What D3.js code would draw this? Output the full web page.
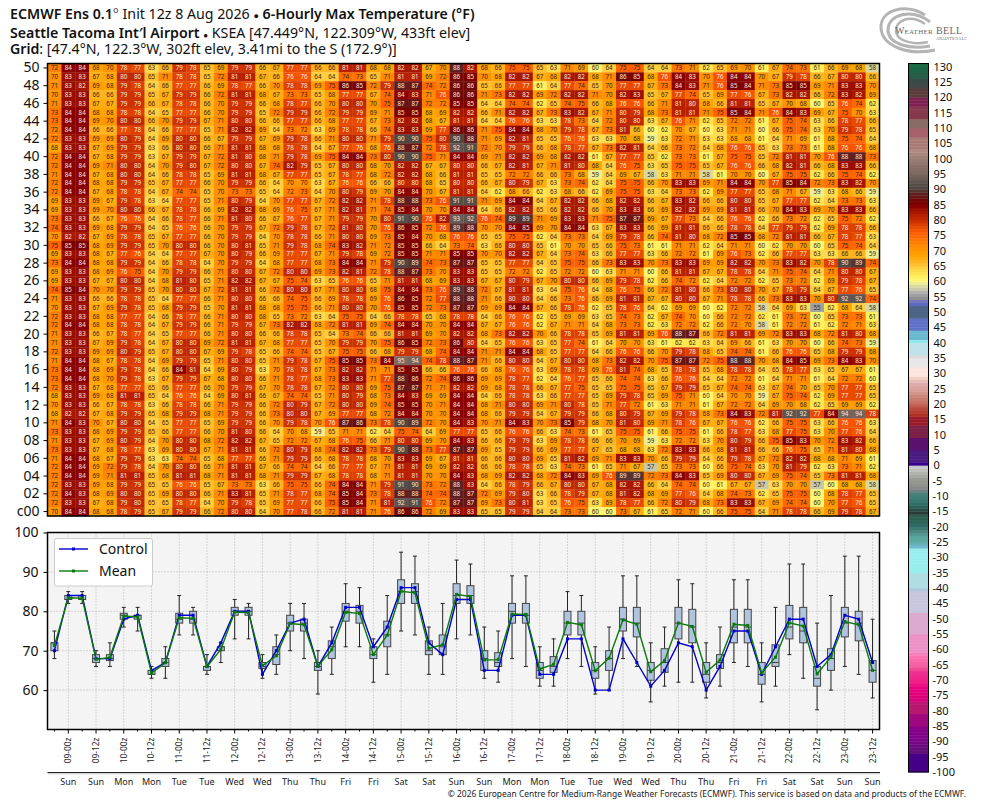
<!DOCTYPE html>
<html>
<head>
<meta charset="utf-8">
<title>ECMWF Ens 6-Hourly Max Temperature</title>
<script src="https://cdn.jsdelivr.net/npm/d3@7"></script>
<style>
  body { margin: 0; background: #fff; }
  svg { display: block; font-family: "Noto Sans", sans-serif; }
  .axis path { display: none; }
</style>
</head>
<body>
<div id="chart"></div>
<script>
// member labels, top row first
const memberLabels = d3.range(50, 0, -1).map(d => (d < 10 ? '0' : '') + d).concat(['c00']);

// forecast times: 08-18z .. 23-12z every 6 hours, only the 00z/12z ones get a label
const timeLabels = ['','09-00z','','09-12z','','10-00z','','10-12z','','11-00z','','11-12z','','12-00z','','12-12z','','13-00z','','13-12z','','14-00z','','14-12z','','15-00z','','15-12z','','16-00z','','16-12z','','17-00z','','17-12z','','18-00z','','18-12z','','19-00z','','19-12z','','20-00z','','20-12z','','21-00z','','21-12z','','22-00z','','22-12z','','23-00z','','23-12z'];
const dayLabels = ['','Sun','','Sun','','Mon','','Mon','','Tue','','Tue','','Wed','','Wed','','Thu','','Thu','','Fri','','Fri','','Sat','','Sat','','Sun','','Sun','','Mon','','Mon','','Tue','','Tue','','Wed','','Wed','','Thu','','Thu','','Fri','','Fri','','Sat','','Sat','','Sun','','Sun'];

// one row per ensemble member (last row is the control run)
const memberValues = [
[72,84,84,68,70,78,77,63,66,79,78,65,69,79,79,66,67,77,77,66,66,81,81,68,68,82,82,67,70,88,82,68,66,75,75,65,63,71,69,60,64,75,75,64,64,73,71,62,65,69,70,61,67,74,73,61,66,69,68,58],
[70,83,83,67,68,80,80,65,71,78,78,65,72,81,81,67,66,76,76,64,64,74,73,65,71,81,81,69,72,86,85,70,68,82,82,67,68,82,82,68,71,86,85,68,76,84,83,70,76,84,84,70,67,79,78,66,67,80,80,66],
[71,83,82,69,68,79,78,64,66,77,77,66,69,78,77,66,70,78,78,69,75,86,85,72,79,88,87,74,72,86,86,65,66,77,77,61,64,77,74,65,70,77,77,67,73,84,83,71,76,85,84,71,73,85,85,69,71,83,83,70],
[70,83,83,66,66,79,79,65,67,79,79,66,72,81,81,68,67,73,73,65,68,77,77,67,74,84,83,71,76,86,86,71,73,82,82,69,72,82,82,71,70,82,83,65,67,77,74,65,69,77,76,67,73,82,82,66,72,83,82,69],
[71,83,83,67,67,79,79,66,67,78,78,66,70,79,79,66,68,78,77,66,70,80,80,70,75,87,87,72,72,85,85,64,64,74,74,62,65,74,75,66,68,76,76,66,71,81,80,68,66,81,81,65,67,70,68,60,65,76,74,62],
[73,84,84,68,68,78,78,64,65,77,77,66,70,79,79,65,72,79,79,66,72,79,79,69,71,85,85,68,69,82,82,66,71,82,82,67,73,83,82,67,71,80,79,68,73,81,81,71,75,85,84,71,76,84,83,69,67,75,70,63],
[73,84,84,69,70,80,80,66,70,79,79,67,71,80,80,66,66,77,77,66,68,77,77,67,73,82,82,68,67,81,81,64,64,76,76,63,63,78,73,64,72,80,80,63,67,76,71,62,65,72,72,61,67,75,74,63,66,78,77,66],
[72,84,84,66,66,77,78,64,66,77,77,65,71,82,82,69,64,73,72,63,69,78,78,66,74,83,83,69,77,86,86,71,75,84,84,68,70,79,78,67,73,81,66,60,62,70,67,60,63,71,71,60,66,75,74,63,70,79,78,65],
[72,83,83,69,69,80,79,64,69,80,80,66,67,79,79,67,69,79,78,66,71,80,80,71,79,90,90,75,80,90,88,71,69,82,81,65,65,76,76,63,63,70,68,59,63,72,71,63,63,68,68,61,64,71,69,61,68,75,74,64],
[68,83,83,67,69,79,79,63,66,80,80,66,71,81,81,68,68,78,78,64,67,77,76,68,76,88,87,72,78,92,91,72,70,79,79,66,68,78,77,67,73,82,81,64,66,73,72,64,68,76,76,65,63,73,73,61,68,76,76,68],
[72,84,84,67,68,79,79,63,67,79,79,67,72,81,80,68,71,79,78,69,75,84,84,73,80,90,90,75,71,84,84,69,71,82,82,69,68,82,82,61,67,77,77,65,62,73,73,61,67,75,75,65,72,81,81,70,76,88,88,73],
[72,84,84,69,71,80,80,64,70,79,80,67,72,80,80,67,74,82,79,65,67,80,80,68,70,82,82,67,67,80,80,66,67,82,81,67,71,81,80,68,64,76,75,63,65,75,75,65,67,76,76,66,68,82,81,66,68,83,83,66],
[71,84,84,67,68,80,80,64,66,78,78,65,69,81,81,68,67,77,77,65,67,78,77,68,72,82,82,68,66,81,81,65,65,72,72,66,66,73,68,59,64,69,67,58,63,71,71,58,61,70,70,60,67,75,75,62,66,75,74,62],
[72,84,84,68,68,79,79,65,67,77,77,66,70,79,79,66,64,70,70,63,67,76,76,66,66,80,80,68,65,80,80,66,67,80,79,67,63,73,74,62,64,75,75,66,70,83,83,69,71,84,84,70,77,85,84,72,73,83,82,70],
[72,84,84,67,68,78,78,64,67,74,74,65,70,73,73,65,64,72,73,64,70,80,79,69,70,84,84,70,67,81,81,64,62,68,66,62,63,68,66,62,69,75,75,63,64,73,73,62,69,77,77,65,68,71,67,59,63,68,66,59],
[69,83,83,69,67,79,78,63,64,77,77,65,71,80,79,64,70,77,77,67,72,82,82,71,78,88,88,73,76,91,91,71,69,84,84,64,67,82,82,66,68,82,82,66,67,83,82,66,66,80,80,65,67,77,77,62,64,73,73,63],
[69,83,83,69,70,80,80,66,67,78,78,66,69,82,82,68,69,76,75,67,71,82,81,71,74,85,84,70,70,84,84,64,66,82,82,65,66,82,82,66,70,83,83,66,69,82,82,69,69,81,81,66,70,84,83,69,70,83,83,66],
[73,83,83,66,67,76,76,64,66,78,77,66,71,81,80,66,67,76,77,67,71,79,79,70,80,91,90,76,82,93,92,76,74,89,89,71,69,83,83,71,75,87,87,69,67,77,73,64,66,76,76,62,66,73,72,62,65,75,72,62],
[74,83,83,69,68,79,79,64,65,76,76,66,70,79,79,67,72,79,78,67,72,81,80,70,76,86,85,72,76,89,88,70,70,84,85,69,70,84,84,63,67,83,83,66,69,81,81,66,66,78,78,64,77,79,79,62,69,78,78,66],
[70,82,82,67,69,78,78,65,67,77,77,66,70,79,79,64,70,78,78,66,71,80,80,69,73,85,84,70,68,76,76,65,65,75,75,62,64,73,73,64,69,79,78,66,74,81,80,68,72,85,85,68,72,81,81,66,67,78,77,63],
[75,85,85,68,69,79,79,65,70,80,80,66,70,80,81,65,71,79,78,68,74,83,82,71,72,85,85,66,64,73,74,63,66,80,80,65,61,70,70,65,66,75,73,61,61,71,71,62,64,71,71,60,62,70,70,60,65,75,74,64],
[69,83,83,68,67,77,76,64,64,77,77,67,70,80,79,66,69,77,77,67,71,79,78,69,72,85,85,71,71,85,85,70,70,82,82,67,64,73,74,63,66,77,77,63,66,72,72,61,69,76,73,62,66,77,77,63,63,66,66,59],
[73,84,84,68,68,79,79,64,66,78,78,64,70,79,79,64,68,77,77,68,73,84,84,71,79,90,89,74,73,87,87,65,65,77,77,64,65,75,75,66,73,83,83,70,73,83,83,69,69,82,82,70,73,83,82,70,78,90,89,74],
[69,83,83,68,69,76,75,64,70,79,79,66,71,80,80,67,72,80,80,69,73,82,81,72,78,88,87,73,70,83,83,65,65,72,72,62,65,72,72,60,63,71,71,60,66,81,81,67,67,78,78,64,71,75,74,64,71,80,80,67],
[69,83,83,67,67,80,80,64,68,81,80,65,71,82,82,67,67,75,74,63,65,76,76,65,71,81,81,68,69,83,83,67,67,80,79,67,70,80,80,66,69,79,78,62,66,74,72,62,64,72,72,62,65,73,72,62,69,79,78,67],
[74,85,84,70,70,79,79,65,70,80,80,67,72,81,81,66,72,80,80,67,71,80,80,68,75,84,84,73,76,89,88,72,67,81,81,63,64,75,76,64,68,76,75,66,72,81,80,66,73,80,80,70,67,78,79,64,67,77,76,65],
[71,83,83,66,66,78,78,65,64,77,77,66,71,80,80,66,66,74,75,66,69,78,78,69,76,86,85,72,77,88,88,71,66,80,80,64,66,73,76,66,69,81,81,67,67,80,80,67,71,78,78,66,73,83,83,70,80,92,92,74],
[70,83,83,67,69,79,78,65,68,79,79,65,70,81,81,68,68,75,75,66,71,80,80,70,76,85,85,72,73,87,87,69,69,84,84,67,66,78,76,62,65,78,76,64,62,69,69,60,62,72,72,58,64,69,63,55,62,68,64,58],
[72,83,83,68,68,77,77,64,66,78,77,66,71,80,80,68,65,73,72,63,64,75,75,64,66,78,78,65,68,78,78,64,66,76,76,62,65,69,69,63,65,74,73,62,67,74,70,60,66,72,72,62,61,73,72,60,65,73,73,61],
[72,84,84,68,68,78,78,64,67,79,79,66,71,79,79,67,73,82,82,68,72,81,81,69,74,84,84,70,70,84,84,67,67,76,76,62,67,71,71,64,68,73,73,62,63,72,72,62,66,72,70,58,61,72,72,61,62,72,71,63],
[71,83,83,66,67,78,77,64,65,77,77,66,71,80,80,66,66,78,78,65,64,73,74,66,66,81,81,69,70,82,82,68,73,82,82,70,66,78,78,65,69,81,81,69,76,88,87,66,72,81,81,69,72,83,83,68,72,81,80,68],
[71,83,83,67,69,79,78,64,67,80,80,69,72,81,81,67,68,77,77,65,70,79,79,70,75,86,85,72,73,86,80,64,65,76,76,63,65,77,74,61,64,70,70,63,61,62,62,63,64,69,66,61,63,70,70,60,66,74,73,59],
[72,83,83,69,69,80,79,65,67,80,80,67,69,79,78,65,66,74,74,65,67,75,75,66,68,79,79,68,74,84,84,71,71,84,84,68,65,77,77,64,66,76,76,66,70,79,78,68,65,74,74,61,66,76,76,65,68,79,79,68],
[71,84,84,68,67,78,78,64,69,79,79,65,71,80,80,65,71,79,78,67,75,85,85,73,84,95,94,74,78,88,87,71,66,80,80,64,67,80,80,68,73,82,82,70,75,87,87,72,75,88,88,70,68,84,85,69,73,84,83,70],
[73,84,84,68,69,79,78,64,66,84,81,64,69,80,79,63,70,78,78,67,73,82,82,71,71,85,85,66,66,76,76,66,68,76,76,63,69,78,78,69,76,81,74,68,65,78,78,65,68,78,78,64,65,78,77,63,65,67,67,61],
[73,84,84,68,70,79,78,63,67,79,79,67,68,80,80,66,71,78,77,68,73,83,83,71,77,88,86,72,74,86,86,69,69,78,77,62,64,76,77,65,66,74,74,63,66,76,76,64,64,72,72,61,64,71,71,61,64,72,72,60],
[72,83,83,67,68,77,77,65,66,77,77,66,70,79,79,67,70,78,78,67,72,80,80,69,75,87,87,71,71,82,82,69,68,78,78,66,67,77,75,65,65,75,75,65,67,79,79,65,67,74,74,63,67,74,70,65,70,77,77,65],
[68,83,83,69,68,81,81,65,64,76,76,64,69,80,81,66,67,74,74,65,71,80,79,68,73,84,83,69,69,84,84,64,66,78,78,63,66,77,77,65,69,79,78,65,69,75,71,60,64,70,70,59,67,75,74,62,69,77,77,65],
[70,83,83,66,67,78,78,63,66,78,78,66,71,79,79,66,72,80,79,67,72,80,80,69,74,85,85,70,71,84,84,68,71,80,80,69,71,80,78,65,71,77,72,61,63,71,71,61,67,72,72,64,69,70,68,62,65,69,69,62],
[68,82,82,67,68,79,79,65,68,79,79,68,71,79,79,66,73,80,80,67,69,77,77,68,72,84,84,70,70,84,84,68,66,79,79,64,67,79,79,66,68,80,79,67,69,79,78,68,73,84,83,72,81,92,92,77,84,94,94,78],
[71,84,83,70,67,80,80,64,65,77,77,65,69,79,79,66,70,79,78,70,76,87,86,73,78,90,89,72,70,84,83,70,71,84,83,70,73,85,79,68,70,81,80,69,71,78,76,67,67,76,76,62,66,75,75,63,66,76,76,63],
[73,83,83,68,69,79,79,65,66,77,77,66,70,81,80,66,64,70,68,59,65,71,71,62,64,75,74,64,69,77,77,65,66,76,76,66,63,74,73,61,65,75,75,61,66,75,75,61,66,78,77,63,68,77,75,63,70,77,76,64],
[71,83,83,67,69,80,79,64,70,80,80,68,72,82,82,67,65,72,72,67,68,76,75,66,71,80,80,69,70,84,83,66,66,79,79,63,69,78,78,66,66,70,69,59,63,72,72,63,70,80,79,66,75,85,83,70,72,83,82,66],
[73,83,83,67,68,78,77,63,69,80,80,67,71,81,81,66,72,80,79,68,74,82,82,73,79,90,88,73,77,87,87,69,65,79,79,66,69,77,77,67,65,68,68,63,72,83,83,66,68,81,81,66,66,76,75,65,71,81,80,68],
[71,84,84,68,67,79,79,63,63,74,74,65,68,77,77,66,71,79,79,66,68,78,78,68,70,83,83,69,67,81,81,66,66,80,80,69,65,81,82,69,71,83,83,70,66,79,79,64,66,79,78,67,72,82,82,68,68,71,69,61],
[72,84,84,69,72,79,78,64,70,80,80,66,71,81,81,67,66,74,74,64,66,77,77,67,71,81,81,69,69,82,82,66,66,78,78,65,63,74,73,61,65,71,67,57,65,73,73,60,66,75,74,63,70,81,79,62,63,73,71,62],
[72,84,84,69,71,81,81,65,68,81,81,68,71,81,81,68,71,79,79,67,68,78,78,68,71,81,81,70,70,84,83,68,69,82,82,68,72,84,83,69,76,89,89,72,73,84,83,65,69,80,80,67,69,75,74,65,73,81,81,68],
[72,83,83,69,68,79,79,65,65,76,76,65,67,73,73,63,66,75,75,66,74,84,84,71,79,91,90,73,72,88,83,64,66,78,79,66,67,80,80,67,68,82,82,66,64,74,74,60,61,67,67,57,63,70,70,57,60,68,68,58],
[72,84,83,68,69,80,80,65,69,80,80,66,71,83,81,65,71,78,77,68,74,85,84,73,78,88,88,74,74,88,87,72,69,79,80,63,66,78,79,67,68,81,82,68,69,77,76,64,68,74,73,62,65,75,75,60,68,78,77,65],
[72,83,83,67,68,79,80,65,65,78,77,64,70,79,78,65,69,77,77,66,75,85,84,71,81,92,91,76,72,87,87,69,73,80,81,63,65,76,75,63,69,78,77,66,72,80,79,68,73,83,83,67,69,74,74,60,70,77,76,65],
[70,84,84,68,68,78,79,65,67,79,79,66,72,80,80,64,70,77,78,66,72,81,81,71,76,86,86,72,69,83,83,65,65,79,79,64,64,73,73,60,60,73,67,61,65,72,71,60,66,75,75,64,71,78,78,66,69,79,78,67]
];

// colorbar bands
const tempStops = [-100,-95,-94,-90,-86,-85,-82,-81,-78,-77,-73,-71,-68,-66,-63,-61,-56,-55,-49,-48,-42,-41,-40,-36,-35,-28,-27,-25,-24,-22,-20,-18,-17,-16,-15,-13,-11,-10,-8,-7,-5,-3,-1,0,1,4,5,8,9,12,13,15,16,18,20,22,24,26,28,29,31,32,34,35,36,39,40,41,43,44,47,48,51,52,53,54,55,56,57,58,59,60,61,62,63,64,65,66,67,68,69,70,71,72,73,74,75,76,77,78,79,80,81,82,83,84,85,86,87,88,90,92,94,95,97,98,102,103,106,107,109,110,112,113,116,117,119,120,122,123,125,126,130,131];
const tempColors = ['#460088','#480088','#601078','#7a0488','#880088','#a00880','#a00880','#b81870','#b81870','#d80078','#e80080','#f02088','#f03090','#f060a0','#ff70b0','#ee90c8','#ee90c8','#dcaad0','#dcaad0','#c6c6de','#c6c6de','#b0c8e0','#aedde2','#aedde2','#98eeee','#98eeee','#70b8d0','#5aa8a0','#5aa8a0','#4a8880','#2f6b64','#2a5f50','#2a5f50','#2a3a38','#284f44','#2f6f68','#3f7f78','#458078','#8a8a8a','#8f918c','#9a9c94','#b0b4ac','#c8c8c8','#3c0090','#4a1a80','#4a1a80','#5c1070','#5c1070','#7c2048','#7c2048','#9a1a2a','#9a1a2a','#b03020','#b84a40','#c87060','#cc8878','#d8a098','#e0aaaa','#f0cfc0','#fce4de','#fce4de','#e8e8e8','#e8e8e8','#dcdcdc','#bfe3ea','#bfe3ea','#90e8e8','#6ab8d0','#6ab8d0','#5e70c8','#5e70c8','#4e6585','#4e6585','#5a6ac0','#7575c0','#8f9090','#a0a0a0','#b0b0b0','#c8c8a8','#d8d8a0','#eeee90','#fff570','#fff060','#ffe650','#ffdb4d','#ffcf40','#ffc030','#ffb520','#ffad10','#ffa500','#ff9d00','#ff9300','#ff8a00','#ff8000','#ff7500','#ff6a00','#ff6000','#f55500','#e84a00','#dd4000','#cc3300','#c02800','#b82000','#a81800','#9a0e00','#8b0000','#7d0000','#700808','#6a1515','#5e2020','#504840','#5f5450','#75635c','#7f6a60','#8a6e68','#90786f','#b08a82','#a87a76','#a87a76','#a8606a','#a8606a','#8a6b66','#8a6b66','#86384d','#86384d','#7f2050','#7f2050','#5a3d3a','#5a3d3a','#44474a','#3a4a48','#2a5a4a','#1a6b45','#1a6b45','#1a6b45','#2a8a3f'];
const colorbarTicks = d3.range(130, -101, -5);

const lineYTicks = [100, 90, 80, 70, 60];

const width = 984, height = 808;
const left = 47.5, right = 879.5;
const heatTop = 63.5, heatBottom = 516;
const lineTop = 532.5, lineBottom = 729.5;

const svg = d3.select('#chart').append('svg')
    .attr('width', width)
    .attr('height', height)
    .attr('viewBox', '0 0 ' + width + ' ' + height);

// titles
const titles = [
  { y: 19, parts: [['ECMWF Ens 0.1', 600], ['\u00B0', 300], [' Init 12z 8 Aug 2026 ', 400], ['\u25CF', 400, 9], [' 6-Hourly Max Temperature', 600], [' (\u00B0F)', 600]] },
  { y: 38, parts: [["Seattle Tacoma Int\u2032l Airport", 600], [' ', 400], ['\u25CF', 400, 8], [' KSEA [47.449\u00B0N, 122.309\u00B0W, 433ft elev]', 400]] },
  { y: 53.5, parts: [['Grid', 600], [': [47.4\u00B0N, 122.3\u00B0W, 302ft elev, 3.41mi to the S (172.9\u00B0)]', 400]] }
];
titles.forEach(function(t) {
  const line = svg.append('text').attr('x', 10).attr('y', t.y).attr('font-size', 14.2).attr('fill', '#111');
  t.parts.forEach(function(p) {
    const span = line.append('tspan').attr('font-weight', p[1]).text(p[0]);
    if (p[2]) span.attr('font-size', p[2]);
  });
});

// shared scales
const x = d3.scaleBand().domain(d3.range(timeLabels.length)).range([left, right]);
const yMember = d3.scaleBand().domain(memberLabels).range([heatTop, heatBottom]);
const yTemp = d3.scaleLinear().domain([50, 100]).range([lineBottom, lineTop]);
const color = d3.scaleLinear().domain(tempStops).range(tempColors).clamp(true);

// heat map
const rows = svg.append('g').selectAll('g')
    .data(memberValues)
    .enter()
    .append('g')
    .attr('transform', (d, i) => 'translate(0,' + yMember(memberLabels[i]) + ')');

const cells = rows.selectAll('g')
    .data(d => d)
    .enter()
    .append('g')
    .attr('transform', (d, i) => 'translate(' + x(i) + ',0)');

cells.append('rect')
    .attr('width', x.bandwidth() + 0.3)
    .attr('height', yMember.bandwidth() + 0.3)
    .attr('fill', d => color(d));

cells.append('text')
    .attr('x', x.bandwidth() / 2)
    .attr('y', yMember.bandwidth() / 2 + 2.2)
    .attr('text-anchor', 'middle')
    .attr('font-size', 6.2)
    .attr('fill', d => d >= 76 ? '#ffe8dc' : '#3a2410')
    .text(d => d);

svg.append('rect')
    .attr('x', left).attr('y', heatTop)
    .attr('width', right - left).attr('height', heatBottom - heatTop)
    .attr('fill', 'none').attr('stroke', '#000').attr('stroke-width', 1.5);

const memberAxis = svg.append('g')
    .attr('class', 'axis')
    .attr('transform', 'translate(' + left + ',0)')
    .call(d3.axisLeft(yMember)
      .tickValues(memberLabels.filter((d, i) => i % 2 === 0))
      .tickSize(4)
      .tickPadding(4));
memberAxis.selectAll('text').attr('font-size', 14).attr('font-family', '"Noto Sans"').attr('fill', '#111');

// lower panel: box plots drawn from the member rows
const columns = d3.range(timeLabels.length).map(i => memberValues.map(r => r[i]).sort(d3.ascending));
const center = i => x(i) + x.bandwidth() / 2;

svg.append('rect')
    .attr('x', left).attr('y', lineTop)
    .attr('width', right - left).attr('height', lineBottom - lineTop)
    .attr('fill', '#f4f4f4');

const grid = svg.append('g')
    .attr('stroke', '#b4b4b4')
    .attr('stroke-width', 1)
    .attr('stroke-dasharray', '1,2');
grid.selectAll('.v')
    .data(d3.range(1, timeLabels.length, 2))
    .enter().append('line')
    .attr('x1', center).attr('x2', center)
    .attr('y1', lineTop).attr('y2', lineBottom);
grid.selectAll('.h')
    .data(lineYTicks)
    .enter().append('line')
    .attr('x1', left).attr('x2', right)
    .attr('y1', d => yTemp(d)).attr('y2', d => yTemp(d));

const boxes = svg.append('g').selectAll('g')
    .data(columns)
    .enter().append('g');

boxes.append('line')
    .attr('x1', (d, i) => center(i)).attr('x2', (d, i) => center(i))
    .attr('y1', d => yTemp(d3.min(d))).attr('y2', d => yTemp(d3.max(d)))
    .attr('stroke', '#222').attr('stroke-width', 1);
[d3.min, d3.max].forEach(function(fn) {
  boxes.append('line')
      .attr('x1', (d, i) => center(i) - 2).attr('x2', (d, i) => center(i) + 2)
      .attr('y1', d => yTemp(fn(d))).attr('y2', d => yTemp(fn(d)))
      .attr('stroke', '#222').attr('stroke-width', 1);
});
boxes.append('rect')
    .attr('x', (d, i) => center(i) - 3.5)
    .attr('width', 7)
    .attr('y', d => yTemp(d3.quantile(d, 0.75)))
    .attr('height', d => yTemp(d3.quantile(d, 0.25)) - yTemp(d3.quantile(d, 0.75)))
    .attr('fill', '#b0c4de').attr('stroke', '#444').attr('stroke-width', 1);
boxes.append('line')
    .attr('x1', (d, i) => center(i) - 3.5).attr('x2', (d, i) => center(i) + 3.5)
    .attr('y1', d => yTemp(d3.median(d))).attr('y2', d => yTemp(d3.median(d)))
    .attr('stroke', '#444').attr('stroke-width', 1);

const controlSeries = memberValues[memberValues.length - 1];
const meanSeries = columns.map(d => d3.mean(d));

function drawSeries(values, col) {
  const line = d3.line().x((d, i) => center(i)).y(d => yTemp(d));
  svg.append('path')
      .attr('d', line(values))
      .attr('fill', 'none')
      .attr('stroke', col)
      .attr('stroke-width', 1.4);
  svg.append('g').selectAll('rect')
      .data(values)
      .enter().append('rect')
      .attr('x', (d, i) => center(i) - 1.5)
      .attr('y', d => yTemp(d) - 1.5)
      .attr('width', 3).attr('height', 3)
      .attr('fill', col);
}
drawSeries(controlSeries, '#0000cc');
drawSeries(meanSeries, '#0a7a0a');

svg.append('rect')
    .attr('x', left).attr('y', lineTop)
    .attr('width', right - left).attr('height', lineBottom - lineTop)
    .attr('fill', 'none').attr('stroke', '#000').attr('stroke-width', 1.5);

const tempAxis = svg.append('g')
    .attr('class', 'axis')
    .attr('transform', 'translate(' + left + ',0)')
    .call(d3.axisLeft(yTemp).tickValues(lineYTicks).tickSize(4).tickPadding(5));
tempAxis.selectAll('text').attr('font-size', 14).attr('font-family', '"Noto Sans"').attr('fill', '#111');

// time ticks, the unlabelled ones are shorter
svg.append('g')
    .attr('class', 'axis')
    .attr('transform', 'translate(0,' + lineBottom + ')')
    .call(d3.axisBottom(x).tickValues(d3.range(0, timeLabels.length, 2)).tickSize(2).tickFormat(''));

const timeAxis = svg.append('g')
    .attr('class', 'axis')
    .attr('transform', 'translate(0,' + lineBottom + ')')
    .call(d3.axisBottom(x)
      .tickValues(d3.range(1, timeLabels.length, 2))
      .tickSize(4)
      .tickFormat(i => timeLabels[i]));
timeAxis.selectAll('text')
    .attr('font-size', 8.4)
    .attr('font-family', '"Noto Sans"')
    .attr('fill', '#222')
    .attr('text-anchor', 'end')
    .attr('dy', '0.35em')
    .attr('transform', function() {
      return 'rotate(-90) translate(-8,-' + d3.select(this).attr('y') + ')';
    });

svg.append('line')
    .attr('x1', left).attr('x2', right + 0.5)
    .attr('y1', 772.5).attr('y2', 772.5)
    .attr('stroke', '#222').attr('stroke-width', 1.2);
svg.append('line')
    .attr('x1', left).attr('x2', right + 0.5)
    .attr('y1', 773.8).attr('y2', 773.8)
    .attr('stroke', '#c4c4c4').attr('stroke-width', 1);

svg.append('g').selectAll('text')
    .data(d3.range(1, dayLabels.length, 2))
    .enter().append('text')
    .attr('x', center)
    .attr('y', 784.5)
    .attr('text-anchor', 'middle')
    .attr('font-size', 9)
    .attr('fill', '#222')
    .text(i => dayLabels[i]);

svg.append('text')
    .attr('x', 966)
    .attr('y', 797)
    .attr('text-anchor', 'end')
    .attr('font-size', 8.45)
    .attr('fill', '#222')
    .text('\u00A9 2026 European Centre for Medium-Range Weather Forecasts (ECMWF). This service is based on data and products of the ECMWF.');

// legend
const legend = svg.append('g');
legend.append('rect')
    .attr('x', 54.5).attr('y', 538.5)
    .attr('width', 98).attr('height', 47.5)
    .attr('rx', 2)
    .attr('fill', '#fff').attr('stroke', '#ccc');
[['Control', '#0000cc', 549], ['Mean', '#0a7a0a', 571]].forEach(function(d) {
  legend.append('line')
      .attr('x1', 59).attr('x2', 88)
      .attr('y1', d[2]).attr('y2', d[2])
      .attr('stroke', d[1]).attr('stroke-width', 1.4);
  legend.append('rect')
      .attr('x', 72).attr('y', d[2] - 1.5)
      .attr('width', 3).attr('height', 3)
      .attr('fill', d[1]);
  legend.append('text')
      .attr('x', 99).attr('y', d[2] + 5)
      .attr('font-size', 14)
      .attr('fill', '#111')
      .text(d[0]);
});

// colorbar
const yBar = d3.scaleLinear().domain([-100, 131]).range([772, 63.5]);
svg.append('g').selectAll('rect')
    .data(d3.range(-100, 131))
    .enter().append('rect')
    .attr('x', 908.5)
    .attr('y', d => yBar(d + 1))
    .attr('width', 20)
    .attr('height', yBar(0) - yBar(1) + 0.4)
    .attr('fill', d => color(d));
svg.append('rect')
    .attr('x', 908.5).attr('y', 63.5)
    .attr('width', 20).attr('height', 708.5)
    .attr('fill', 'none').attr('stroke', '#000').attr('stroke-width', 1);
svg.append('g').selectAll('text')
    .data(colorbarTicks)
    .enter().append('text')
    .attr('x', d => d < 0 ? 932.5 : 933.5)
    .attr('y', d => yBar(d) + 4)
    .attr('font-size', 11)
    .attr('fill', '#111')
    .text(d => d);

// WeatherBell logo, top right corner
const logo = svg.append('g').attr('fill', 'none').attr('stroke', '#b4b4b4');
logo.append('path').attr('stroke-width', 3)
    .attr('d', 'M 925 15 C 905 3 880 10 881 28 C 882 46 908 56 935 50');
logo.append('path').attr('stroke-width', 3)
    .attr('d', 'M 930 22 C 912 8 888 14 888 30 C 888 44 910 50 930 46');
logo.append('path').attr('stroke-width', 2.5)
    .attr('d', 'M 925 24 C 910 14 895 20 896 32 C 898 42 915 45 928 42');
const logoWord = svg.append('text')
    .attr('x', 895).attr('y', 34)
    .attr('font-family', '"Liberation Serif"')
    .attr('fill', '#666');
logoWord.append('tspan').attr('font-size', 10).text('W');
logoWord.append('tspan').attr('font-size', 7).attr('letter-spacing', 0.3).text('EATHER');
svg.append('text')
    .attr('x', 936).attr('y', 34)
    .attr('font-family', '"Liberation Serif"')
    .attr('font-size', 10)
    .attr('letter-spacing', 0.4)
    .attr('fill', '#666')
    .text('BELL');
svg.append('text')
    .attr('x', 936).attr('y', 39.5)
    .attr('font-family', '"Liberation Serif"')
    .attr('font-size', 4)
    .attr('fill', '#666')
    .text('ANALYTICS LLC');
</script>
</body>
</html>
